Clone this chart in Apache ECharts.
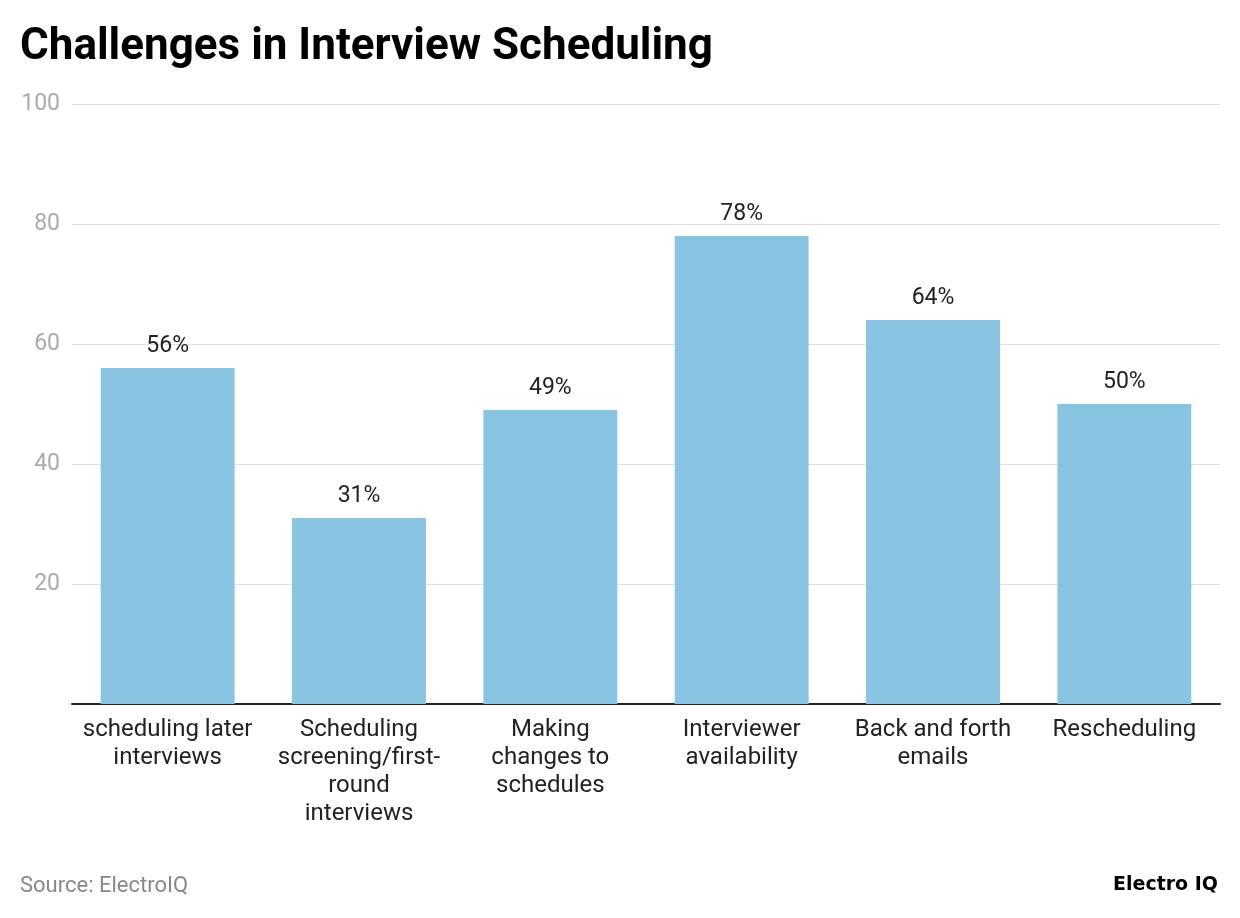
<!DOCTYPE html>
<html>
<head>
<meta charset="utf-8">
<script src="https://cdn.jsdelivr.net/npm/echarts@6/dist/echarts.min.js"></script>
<style>html,body{margin:0;padding:0;background:#fff;}#c{width:1240px;height:918px;}</style>
</head>
<body>
<div id="c"></div>
<script>
const categories = ["scheduling later\ninterviews", "Scheduling\nscreening/first-\nround\ninterviews", "Making\nchanges to\nschedules", "Interviewer\navailability", "Back and forth\nemails", "Rescheduling"];
const values = [56, 31, 49, 78, 64, 50];
const yTicks = [0, 20, 40, 60, 80, 100];

const chart = echarts.init(document.getElementById('c'));
chart.setOption({
  animation: false,
  backgroundColor: '#fff',
  title: [
    {text: 'Challenges in Interview Scheduling', left: 20, top: 26, padding: 0,
     textStyle: {fontFamily: 'Roboto', fontWeight: 'bold', fontSize: 44, color: '#000'}},
    {text: 'Source: ElectroIQ', left: 20, top: 875, padding: 0,
     textStyle: {fontFamily: 'Roboto', fontWeight: 'normal', fontSize: 22, color: '#888'}},
    {text: 'Electro IQ', right: 22, top: 876, padding: 0,
     textStyle: {fontFamily: 'DejaVu Sans', fontWeight: 'bold', fontSize: 19, color: '#000'}}
  ],
  grid: {left: 72, right: 20, top: 104, bottom: 214, containLabel: false},
  xAxis: {
    type: 'category', data: categories,
    axisLine: {lineStyle: {color: '#222', width: 2}},
    axisTick: {show: false},
    axisLabel: {interval: 0, fontFamily: 'Roboto', fontSize: 24, color: '#222', lineHeight: 28, margin: 12}
  },
  yAxis: {
    type: 'value', min: yTicks[0], max: yTicks[yTicks.length - 1], interval: 20,
    axisLine: {show: false}, axisTick: {show: false},
    splitLine: {lineStyle: {color: '#e0e0e0', width: 1}},
    axisLabel: {fontFamily: 'Roboto', fontSize: 23, color: '#aaa', margin: 12,
      formatter: v => v === 0 ? '' : String(v)}
  },
  series: [{
    type: 'bar', data: values, barCategoryGap: '30%',
    itemStyle: {color: '#89C4E2'},
    label: {show: true, position: 'top', distance: 10, formatter: '{c}%',
      fontFamily: 'Roboto', fontSize: 23, color: '#222'}
  }]
});
</script>
</body>
</html>
